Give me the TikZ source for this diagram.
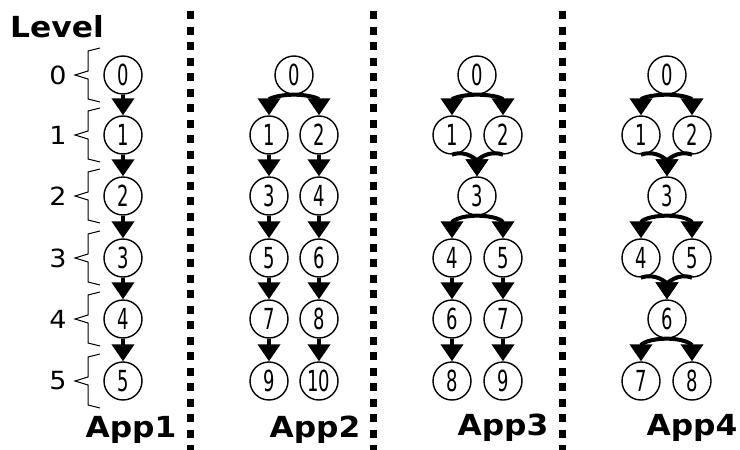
\documentclass[tikz,border=0pt]{standalone}
\usepackage{fontspec}
\setmainfont{DejaVu Sans}
\newfontfamily\numfont{DejaVu Sans}[FakeStretch=0.62]
\newfontfamily\labfont{DejaVu Sans}[FakeStretch=1.08]
\usetikzlibrary{arrows.meta}

\begin{document}
\begin{tikzpicture}[x=1pt,y=1pt,yscale=-1,xscale=1,
	state/.style={draw,circle,line width=1.4pt,minimum size=38pt,inner sep=0pt,font=\numfont\fontsize{29}{29}\selectfont},
	flow/.style={line width=4pt,-{Triangle[width=22pt,length=17pt]}},
	sep/.style={line width=7pt,dash pattern=on 8pt off 7.5pt},
	brace/.style={line width=1pt},
	applbl/.style={font=\labfont\bfseries\fontsize{29}{29}\selectfont},
	lvl/.style={font=\labfont\fontsize{25}{25}\selectfont}]
	\useasboundingbox (0,0) rectangle (740,450);
	% separators
	\draw [sep] (190,11) -- (190,450);
	\draw [sep] (373,11) -- (373,450);
	\draw [sep] (562,11) -- (562,450);
	% levels
	\node (level) at (57,27) [applbl] {Level};
	\node (l0) at (58,75) [lvl] {0};
	\node (l1) at (58,135) [lvl] {1};
	\node (l2) at (58,196) [lvl] {2};
	\node (l3) at (58,258) [lvl] {3};
	\node (l4) at (58,319) [lvl] {4};
	\node (l5) at (58,381) [lvl] {5};
	\draw [brace] (100,48) -- (88,51) -- (88,71) -- (75,75) -- (88,79) -- (88,99) -- (100,102);
	\draw [brace] (100,108) -- (88,111) -- (88,131) -- (75,135) -- (88,139) -- (88,159) -- (100,162);
	\draw [brace] (100,169) -- (88,172) -- (88,192) -- (75,196) -- (88,200) -- (88,220) -- (100,223);
	\draw [brace] (100,231) -- (88,234) -- (88,254) -- (75,258) -- (88,262) -- (88,282) -- (100,285);
	\draw [brace] (100,292) -- (88,295) -- (88,315) -- (75,319) -- (88,323) -- (88,343) -- (100,346);
	\draw [brace] (100,354) -- (88,357) -- (88,377) -- (75,381) -- (88,385) -- (88,405) -- (100,408);
	% App1
	\node (a0) at (123,75) [state] {0};
	\node (a1) at (123,135) [state] {1};
	\node (a2) at (123,196) [state] {2};
	\node (a3) at (123,258) [state] {3};
	\node (a4) at (123,319) [state] {4};
	\node (a5) at (123,381) [state] {5};
	\draw [flow] (a0) -- (a1);
	\draw [flow] (a1) -- (a2);
	\draw [flow] (a2) -- (a3);
	\draw [flow] (a3) -- (a4);
	\draw [flow] (a4) -- (a5);
	\node (app1) at (131,430) [applbl] {App1};
	% App2
	\node (b0) at (294,75) [state] {0};
	\node (b1) at (269,135) [state] {1};
	\node (b2) at (319,135) [state] {2};
	\node (b3) at (269,196) [state] {3};
	\node (b4) at (319,196) [state] {4};
	\node (b5) at (269,258) [state] {5};
	\node (b6) at (319,258) [state] {6};
	\node (b7) at (269,319) [state] {7};
	\node (b8) at (319,319) [state] {8};
	\node (b9) at (269,381) [state] {9};
	\node (b10) at (319,381) [state] {10};
	\draw [flow] (b0.south) to[out=180,in=-90,looseness=1.3] (b1.north);
	\draw [flow] (b0.south) to[out=0,in=-90,looseness=1.3] (b2.north);
	\draw [flow] (b1) -- (b3);
	\draw [flow] (b2) -- (b4);
	\draw [flow] (b3) -- (b5);
	\draw [flow] (b4) -- (b6);
	\draw [flow] (b5) -- (b7);
	\draw [flow] (b6) -- (b8);
	\draw [flow] (b7) -- (b9);
	\draw [flow] (b8) -- (b10);
	\node (app2) at (315,430) [applbl] {App2};
	% App3
	\node (c0) at (477,75) [state] {0};
	\node (c1) at (452,135) [state] {1};
	\node (c2) at (503,135) [state] {2};
	\node (c3) at (477,196) [state] {3};
	\node (c4) at (452,258) [state] {4};
	\node (c5) at (503,258) [state] {5};
	\node (c6) at (452,319) [state] {6};
	\node (c7) at (503,319) [state] {7};
	\node (c8) at (452,381) [state] {8};
	\node (c9) at (503,381) [state] {9};
	\draw [flow] (c0.south) to[out=180,in=-90,looseness=1.3] (c1.north);
	\draw [flow] (c0.south) to[out=0,in=-90,looseness=1.3] (c2.north);
	\draw [flow] (c1.south) to[out=-20,in=-90,looseness=1.2] (c3.north);
	\draw [flow] (c2.south) to[out=200,in=-90,looseness=1.2] (c3.north);
	\draw [flow] (c3.south) to[out=180,in=-90,looseness=1.3] (c4.north);
	\draw [flow] (c3.south) to[out=0,in=-90,looseness=1.3] (c5.north);
	\draw [flow] (c4) -- (c6);
	\draw [flow] (c5) -- (c7);
	\draw [flow] (c6) -- (c8);
	\draw [flow] (c7) -- (c9);
	\node (app3) at (503,428) [applbl] {App3};
	% App4
	\node (d0) at (667,75) [state] {0};
	\node (d1) at (641,135) [state] {1};
	\node (d2) at (692,135) [state] {2};
	\node (d3) at (667,196) [state] {3};
	\node (d4) at (641,258) [state] {4};
	\node (d5) at (692,258) [state] {5};
	\node (d6) at (667,319) [state] {6};
	\node (d7) at (641,381) [state] {7};
	\node (d8) at (692,381) [state] {8};
	\draw [flow] (d0.south) to[out=180,in=-90,looseness=1.3] (d1.north);
	\draw [flow] (d0.south) to[out=0,in=-90,looseness=1.3] (d2.north);
	\draw [flow] (d1.south) to[out=-20,in=-90,looseness=1.2] (d3.north);
	\draw [flow] (d2.south) to[out=200,in=-90,looseness=1.2] (d3.north);
	\draw [flow] (d3.south) to[out=180,in=-90,looseness=1.3] (d4.north);
	\draw [flow] (d3.south) to[out=0,in=-90,looseness=1.3] (d5.north);
	\draw [flow] (d4.south) to[out=-20,in=-90,looseness=1.2] (d6.north);
	\draw [flow] (d5.south) to[out=200,in=-90,looseness=1.2] (d6.north);
	\draw [flow] (d6.south) to[out=180,in=-90,looseness=1.3] (d7.north);
	\draw [flow] (d6.south) to[out=0,in=-90,looseness=1.3] (d8.north);
	\node (app4) at (692,428) [applbl] {App4};
\end{tikzpicture}
\end{document}
